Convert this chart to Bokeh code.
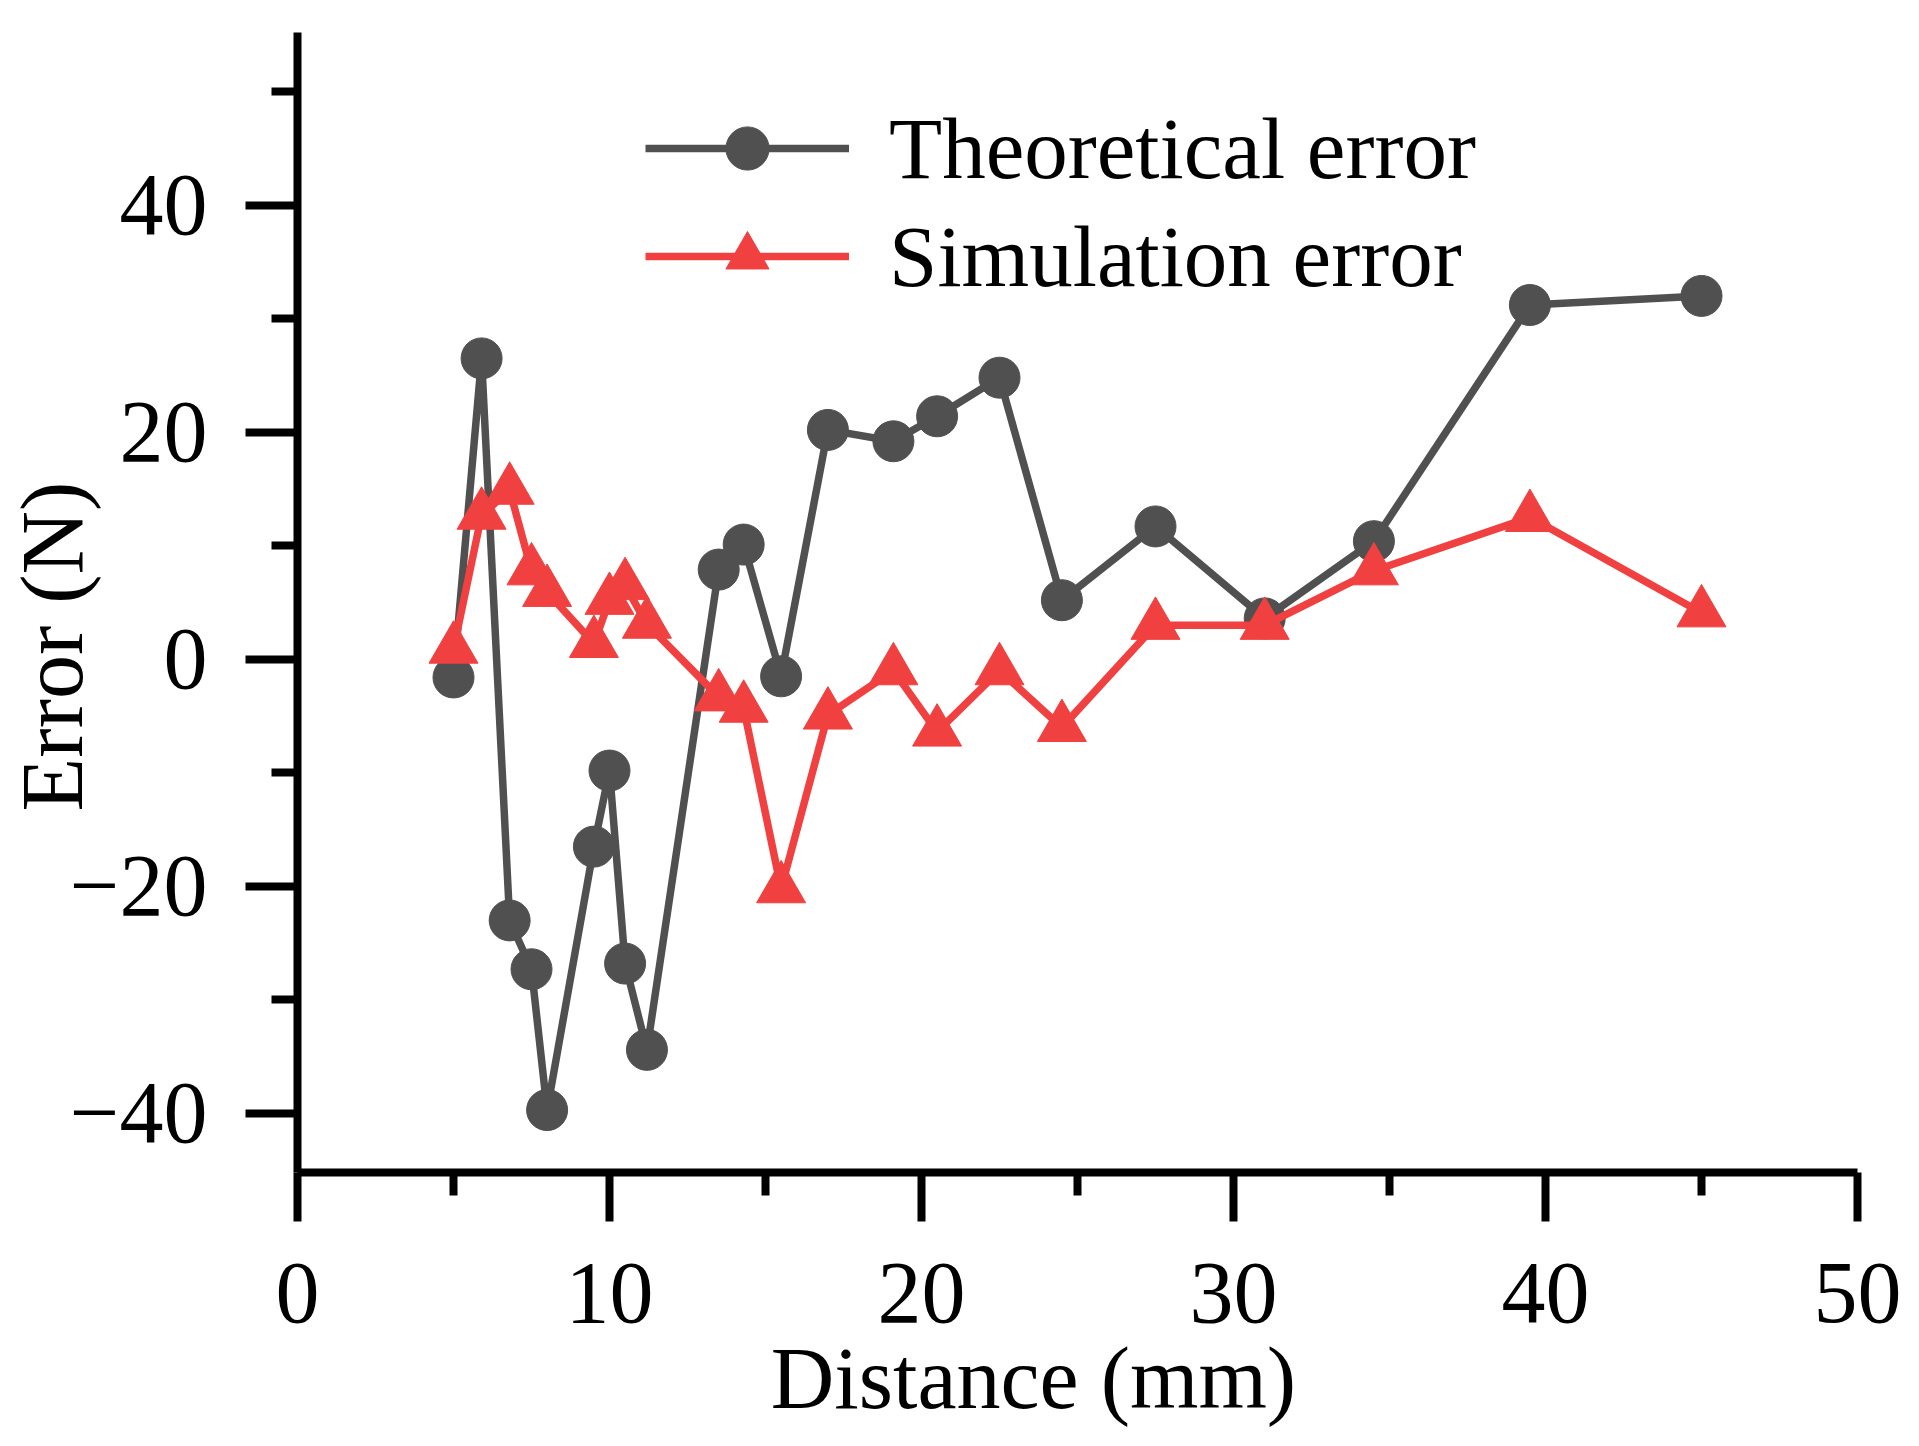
from bokeh.plotting import figure
from bokeh.models import FixedTicker, Range1d, Legend, LegendItem
from bokeh.embed import file_html
from bokeh.resources import INLINE

# ---- data ----
distance = [5.0, 5.9, 6.8, 7.5, 8.0, 9.5, 10.0, 10.5, 11.2, 13.5, 14.3, 15.5,
            17.0, 19.1, 20.5, 22.5, 24.5, 27.5, 31.0, 34.5, 39.5, 45.0]
theoretical_error = [-1.6, 26.5, -23.0, -27.3, -39.7, -16.5, -9.8, -26.8, -34.4,
                     7.9, 10.1, -1.5, 20.2, 19.2, 21.4, 24.8, 5.2, 11.7, 3.6,
                     10.4, 31.2, 32.0]
simulation_error = [0.9, 12.7, 14.9, 7.8, 5.9, 1.4, 5.2, 6.5, 3.1, -3.3, -4.3,
                    -20.2, -4.9, -1.0, -6.4, -1.0, -6.0, 3.0, 3.0, 7.8, 12.5, 4.1]

x_ticks = [0, 10, 20, 30, 40, 50]
x_minor = [5, 15, 25, 35, 45]
y_ticks = [-40, -20, 0, 20, 40]
y_minor = [-30, -10, 10, 30, 50]
y_tick_labels = {-40: "\u221240", -20: "\u221220", 0: "0", 20: "20", 40: "40"}

series_names = ["Theoretical error", "Simulation error"]
x_title = "Distance (mm)"
y_title = "Error (N)"
PAD = "\u00a0" * 4   # non-breaking spaces shift the titles off-centre as in the reference
dark = "#505050"
red = "#F04040"
FONT = "Liberation Serif"
FS = "88px"

p = figure(width=1910, height=1440, output_backend="svg", toolbar_location=None,
           x_range=Range1d(0, 50), y_range=Range1d(-45.2, 55.2),
           min_border_left=295, min_border_right=53, min_border_top=32,
           min_border_bottom=268)
p.outline_line_color = None
p.grid.visible = False
p.background_fill_color = "white"

l1 = p.line(distance, theoretical_error, line_color=dark, line_width=7.5)
s1 = p.scatter(distance, theoretical_error, marker="circle", size=41,
               fill_color=dark, line_color=dark)
l2 = p.line(distance, simulation_error, line_color=red, line_width=7.5)
s2 = p.scatter(distance, simulation_error, marker="triangle", size=49,
               fill_color=red, line_color=red)

legend = Legend(items=[LegendItem(label=series_names[0], renderers=[l1, s1]),
                       LegendItem(label=series_names[1], renderers=[l2, s2])],
                location=(348, 862))
legend.glyph_width = 204
legend.glyph_height = 108
legend.label_height = 108
legend.spacing = 0
legend.padding = 0
legend.margin = 0
legend.label_standoff = 40
legend.label_text_font = FONT
legend.label_text_font_size = "87px"
legend.label_text_color = "black"
legend.border_line_color = None
legend.background_fill_alpha = 0
p.add_layout(legend, "center")

xa = p.xaxis[0]
xa.ticker = FixedTicker(ticks=x_ticks, minor_ticks=x_minor)
xa.axis_label = x_title + PAD
ya = p.yaxis[0]
ya.ticker = FixedTicker(ticks=y_ticks, minor_ticks=y_minor)
ya.major_label_overrides = y_tick_labels
ya.axis_label = y_title + PAD

for ax in (xa, ya):
    ax.axis_line_width = 8
    ax.axis_line_color = "black"
    ax.major_tick_line_width = 8
    ax.minor_tick_line_width = 8
    ax.major_tick_line_color = "black"
    ax.minor_tick_line_color = "black"
    ax.major_tick_in = 0
    ax.minor_tick_in = 0
    ax.major_label_text_font = FONT
    ax.major_label_text_font_size = FS
    ax.major_label_text_color = "black"
    ax.axis_label_text_font = FONT
    ax.axis_label_text_font_size = FS
    ax.axis_label_text_font_style = "normal"
    ax.axis_label_text_color = "black"

xa.major_tick_out = 49
xa.minor_tick_out = 23
xa.major_label_standoff = 42
xa.axis_label_standoff = 5

ya.major_tick_out = 52
ya.minor_tick_out = 26
ya.major_label_standoff = 38
ya.axis_label_standoff = -34

open("out.html", "w").write(file_html(p, INLINE))
